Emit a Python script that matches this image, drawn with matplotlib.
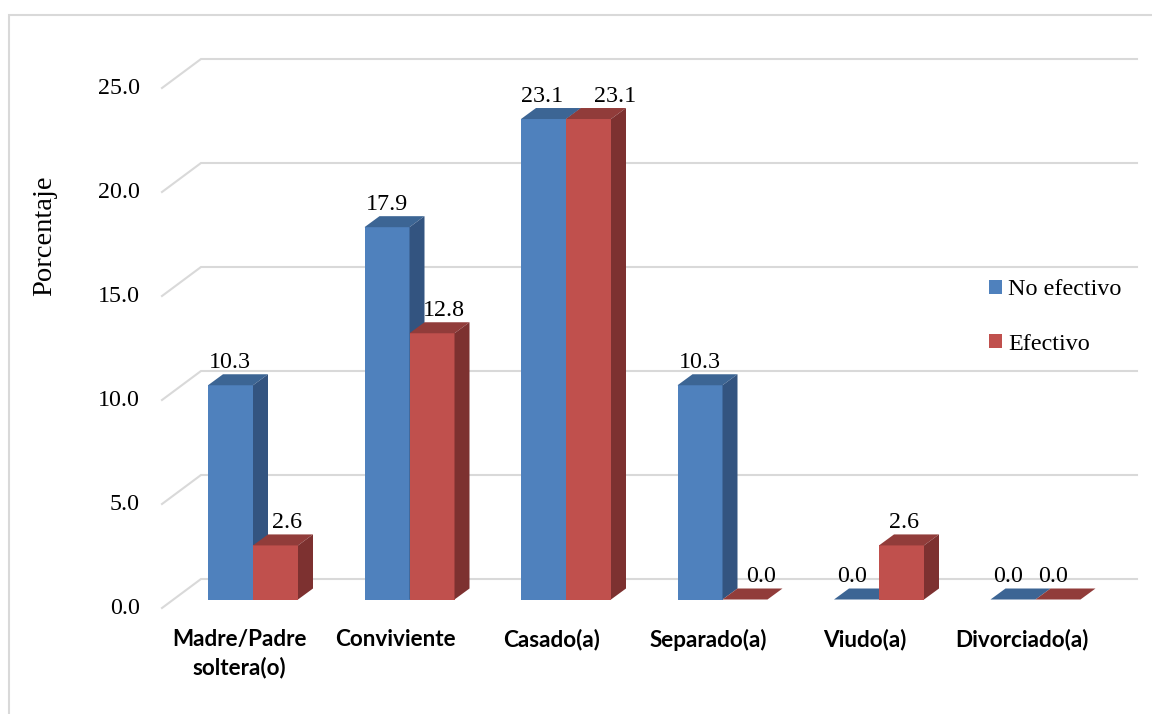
import matplotlib
matplotlib.use('Agg')
import matplotlib.pyplot as plt
from matplotlib.lines import Line2D
from matplotlib.patches import Patch
from matplotlib.transforms import ScaledTranslation

categories = ['Madre/Padre\nsoltera(o)', 'Conviviente', 'Casado(a)', 'Separado(a)', 'Viudo(a)', 'Divorciado(a)']
no_efectivo = [10.3, 17.9, 23.1, 10.3, 0.0, 0.0]
efectivo = [2.6, 12.8, 23.1, 0.0, 2.6, 0.0]
y_ticks = [0, 5, 10, 15, 20, 25]

# hand placed nudges (px) of the value labels, they were moved around in the original
shift_blue = [-1, 0, -1, 0, -4, -5]
shift_red = [12, 12, 27, 16, 3, -5]

W, H = 1152, 714
BASE_Y = 599.5
PX_X = 1 / 156.5    # data units per pixel
PX_Y = 1 / 20.8
BAR_W = 45 * PX_X
DEPTH_X, DEPTH_Y = 15 * PX_X, 11 * PX_Y
GRID_DX, GRID_UP, GRID_DOWN = 39 * PX_X, 20.5 * PX_Y, 8.5 * PX_Y

SERIF = 'Liberation Serif'
SANS = 'Lato'


def draw_bar(ax, x, value, front, top, side):
    ax.bar(x, value, BAR_W, align='edge', color=front, linewidth=0, zorder=3)
    ax.fill([x, x + BAR_W, x + BAR_W + DEPTH_X, x + DEPTH_X],
            [value, value, value + DEPTH_Y, value + DEPTH_Y], color=top, linewidth=0, zorder=3)
    if value > 0:
        ax.fill([x + BAR_W, x + BAR_W + DEPTH_X, x + BAR_W + DEPTH_X, x + BAR_W],
                [0, DEPTH_Y, value + DEPTH_Y, value], color=side, linewidth=0, zorder=3)


def value_label(ax, x, value, shift):
    ax.annotate(f'{value:.1f}', (x + BAR_W / 2, value), xytext=(shift * 0.72, 23 * 0.72),
                textcoords='offset points', ha='center', va='center',
                fontsize=17.3, family=SERIF, color='black', zorder=5, annotation_clip=False)


fig = plt.figure(figsize=(W / 100, H / 100), dpi=100)
# axes box = the floor front corner to the top end of the back wall
ax = fig.add_axes([162 / W, 1 - 608 / H, (1137 - 162) / W, (608 - 58) / H])
ax.set_xlim((162 - 253) * PX_X, (1137 - 253) * PX_X)
ax.set_ylim(-GRID_DOWN, (BASE_Y - 58) * PX_Y)
ax.patch.set_visible(False)
for s in ax.spines.values():
    s.set_visible(False)

x_left = ax.get_xlim()[0]
x_right = ax.get_xlim()[1]
for v in y_ticks:
    ax.plot([x_left, x_left + GRID_DX, x_right], [v - GRID_DOWN, v + GRID_UP, v + GRID_UP],
            color='#D9D9D9', lw=1.5, zorder=1, solid_joinstyle='miter', clip_on=False)

for i in range(len(categories)):
    draw_bar(ax, i - BAR_W, no_efectivo[i], '#4F81BD', '#3C6594', '#335480')
    draw_bar(ax, i, efectivo[i], '#C0504D', '#913C3A', '#7D3130')
    value_label(ax, i - BAR_W, no_efectivo[i], shift_blue[i])
    value_label(ax, i, efectivo[i], shift_red[i])

ax.set_yticks(y_ticks)
ax.set_yticklabels([f'{v:.1f}' for v in y_ticks], fontsize=17.3, family=SERIF)
ax.tick_params(axis='y', length=0, pad=22 * 0.72)
for lab in ax.get_yticklabels():
    lab.set_transform(lab.get_transform() + ScaledTranslation(0, -6 / 100, fig.dpi_scale_trans))

ax.set_xticks(range(len(categories)))
ax.set_xticklabels(categories, fontsize=16.2, family=SANS, fontweight='bold', linespacing=1.4)
ax.tick_params(axis='x', length=0, pad=21 * 0.72)
for lab in ax.get_xticklabels():
    lab.set_transform(lab.get_transform() + ScaledTranslation(-14 / 100, 0, fig.dpi_scale_trans))

fig.text(45 / W, 1 - 236 / H, 'Porcentaje', rotation=90, ha='center', va='center',
         fontsize=20.5, family=SERIF)

handles = [Patch(facecolor='#4F81BD', label='No efectivo'), Patch(facecolor='#C0504D', label='Efectivo')]
fig.legend(handles=handles, loc='upper left', bbox_to_anchor=(989 / W, 1 - 279.5 / H), frameon=False,
           prop={'family': SERIF, 'size': 17.4}, handlelength=0.54, handleheight=0.54,
           handletextpad=0.25, labelspacing=1.37, borderpad=0, borderaxespad=0)

# outer chart frame, only the top and left edges show
fig.add_artist(Line2D([9 / W, 9 / W, 1], [0, 1 - 15 / H, 1 - 15 / H], transform=fig.transFigure,
                      color='#D9D9D9', lw=1.5, solid_joinstyle='miter'))

fig.savefig('out.png', dpi=100)
